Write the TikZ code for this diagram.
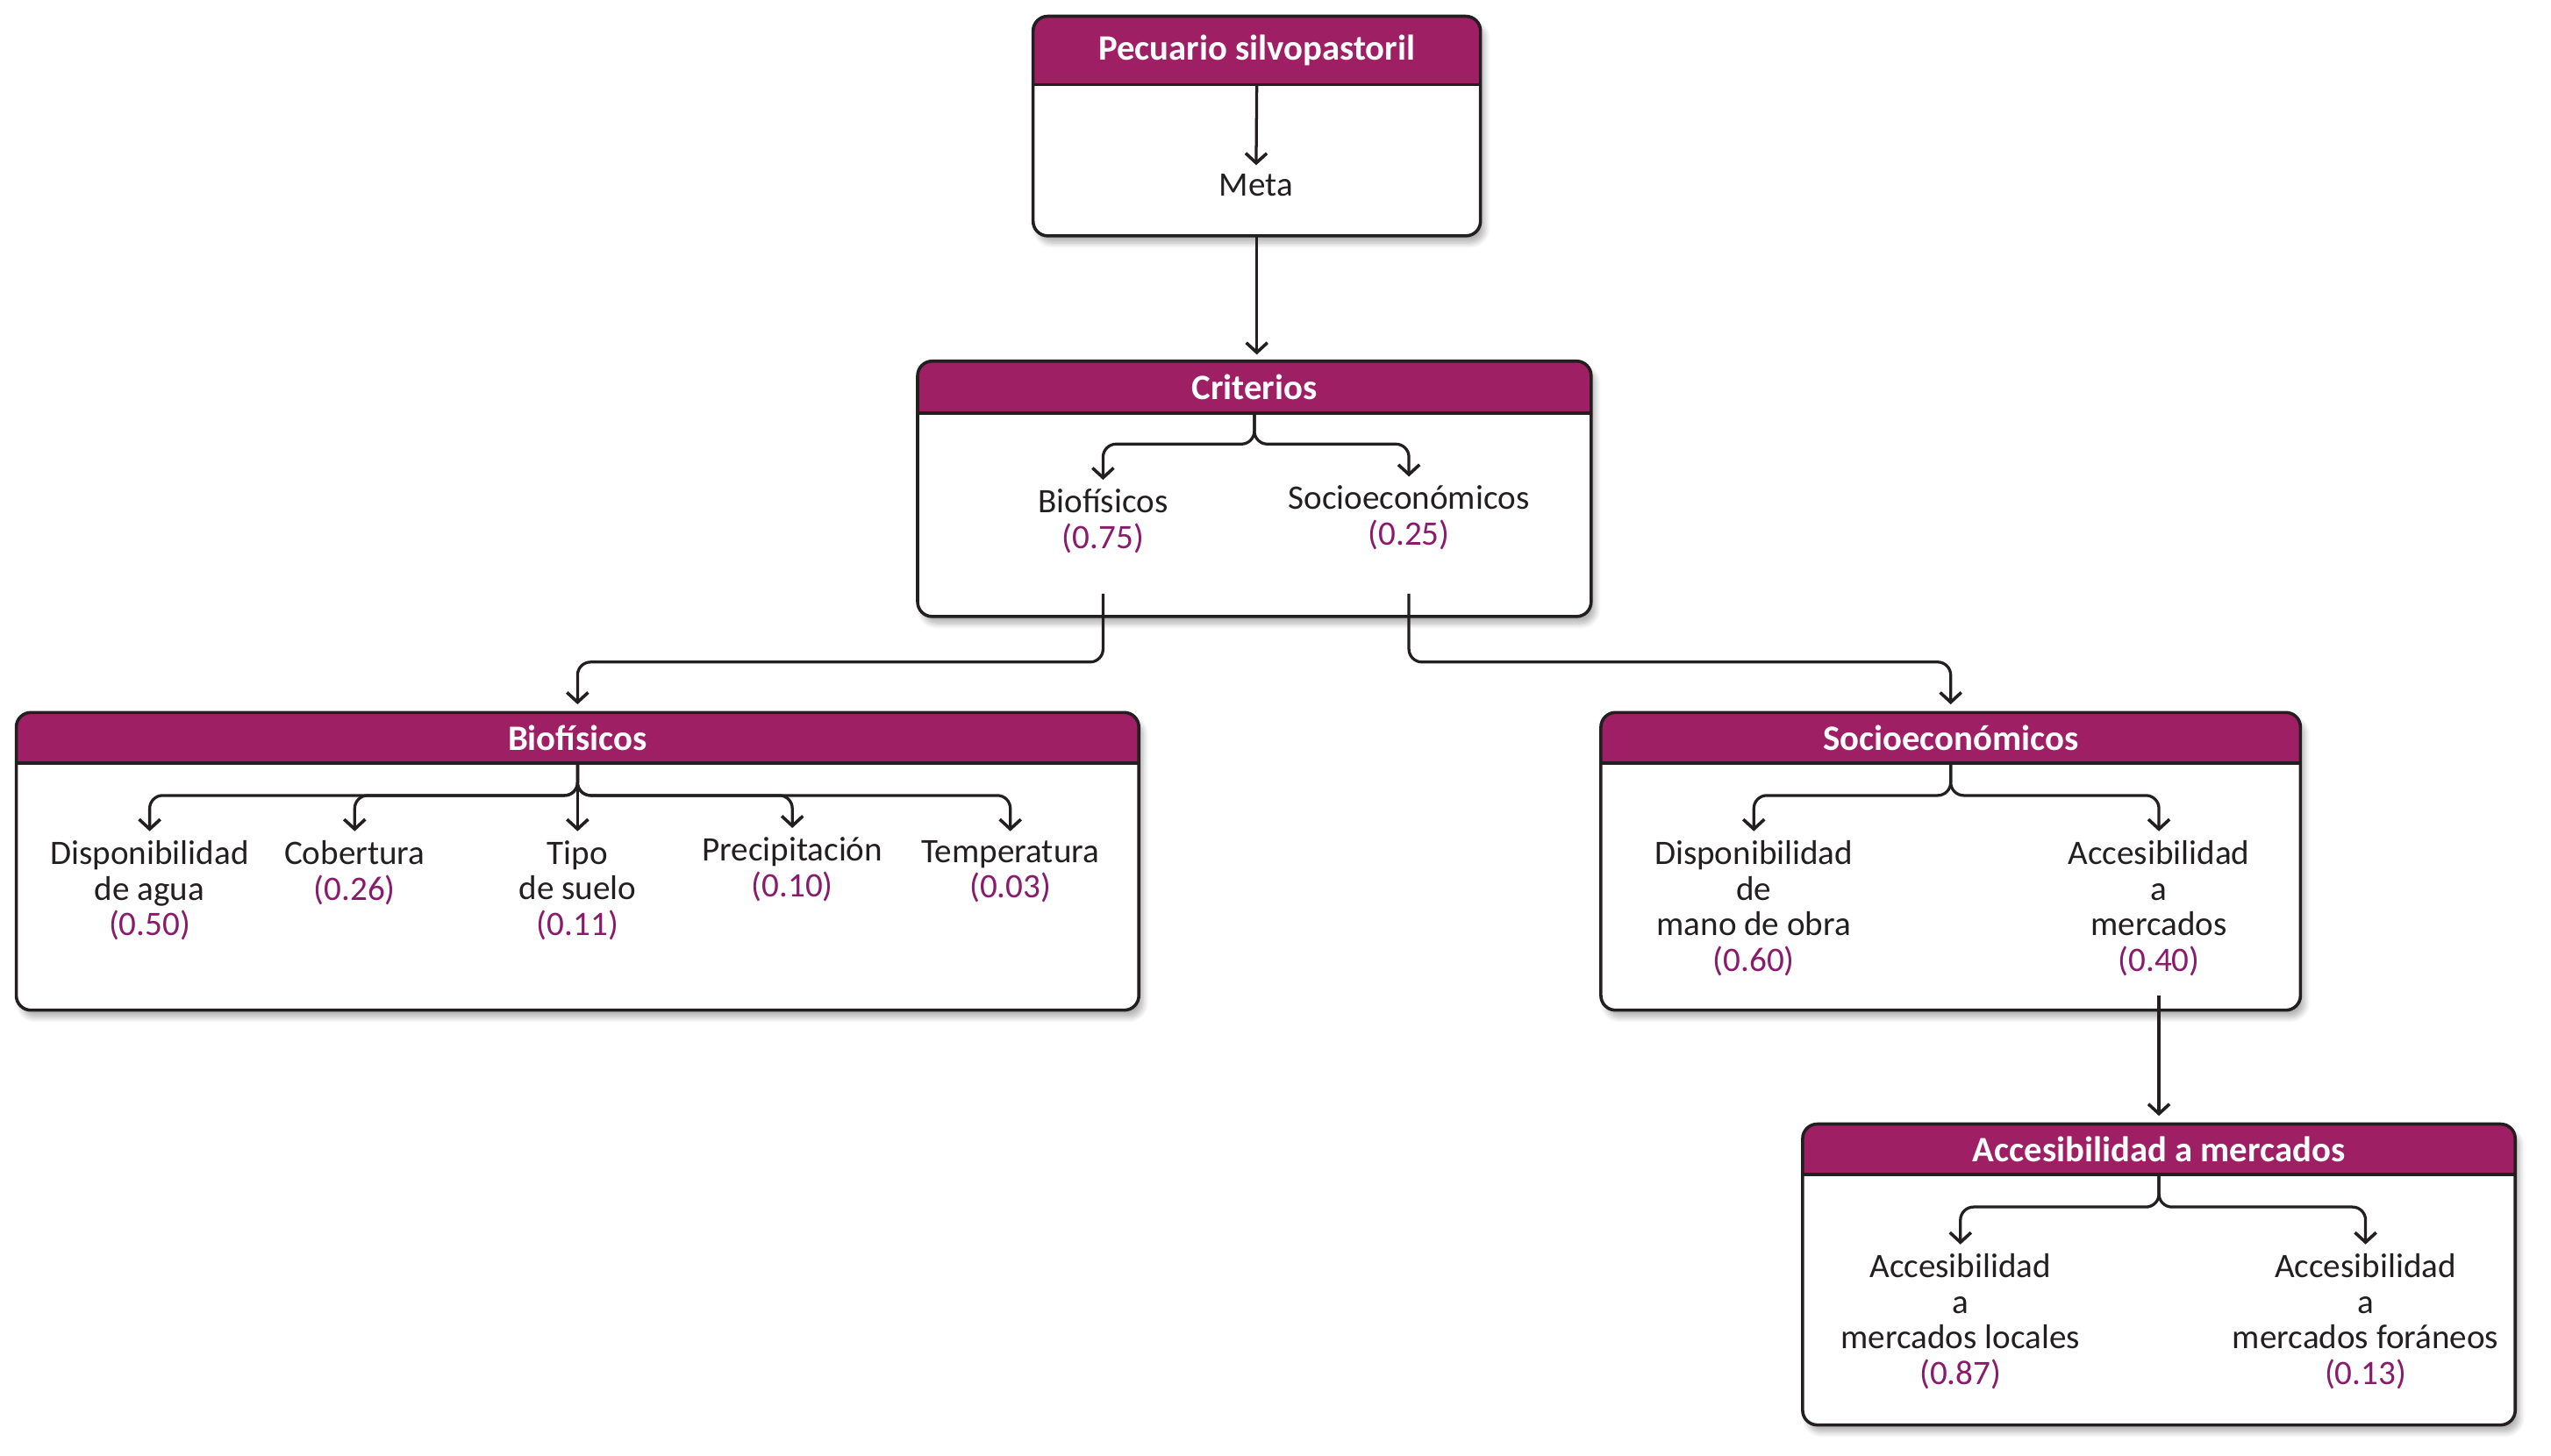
\documentclass[tikz,border=0pt]{standalone}
\usepackage{fontspec}
\setmainfont{Carlito}
\usepackage{xcolor}
\usepackage{tikz}
\usetikzlibrary{calc, arrows.meta, shadows.blur}
\definecolor{headColor}{HTML}{9E1F63}
\definecolor{weightColor}{HTML}{8A1A6C}
\definecolor{lineColor}{HTML}{231F20}

\tikzset{
  panelbody/.style={fill=white, rounded corners=1.8mm,
    blur shadow={shadow xshift=1.5pt, shadow yshift=-2.5pt, shadow opacity=30, shadow blur steps=8}},
  panelline/.style={draw=lineColor, line width=1.1pt},
  headtext/.style={text=white, font=\fontsize{12.5}{14}\selectfont\bfseries, inner sep=0pt},
  item/.style={align=center, anchor=north, inner sep=3pt, text=lineColor, font=\fontsize{12}{12.5}\selectfont},
  conn/.style={draw=lineColor, line width=1pt, rounded corners=1.6mm,
    -{Straight Barb[length=1.2mm, width=2.6mm, line width=1.1pt]}},
}
\newcommand{\wt}[1]{\textcolor{weightColor}{(#1)}}
% name, x1, y1, x2, y2, header bottom, title
\newcommand{\drawpanel}[7]{%
  \fill[panelbody] (#2,#3) rectangle (#4,#5);
  \begin{scope}
    \clip[rounded corners=1.8mm] (#2,#3) rectangle (#4,#5);
    \fill[headColor] (#2,#3) rectangle (#4,#6);
  \end{scope}
  \draw[panelline] (#2,#6) -- (#4,#6);
  \draw[panelline, rounded corners=1.8mm] (#2,#3) rectangle (#4,#5);
  \node[headtext] (#1) at ({(#2+#4)/2},{(#3+#6)/2}) {#7};
  \coordinate (#1-top) at ({(#2+#4)/2},#3);
  \coordinate (#1-fork) at ({(#2+#4)/2},#6);
  \coordinate (#1-bot) at ({(#2+#4)/2},#5);
}

\begin{document}
\begin{tikzpicture}[x=0.2mm, y=-0.2mm]
    \useasboundingbox (0,0) rectangle (1568,895);

    % panels
    \drawpanel{pecuario}{635}{10}{910}{145}{52}{Pecuario silvopastoril}
    \drawpanel{criterios}{564}{222}{978}{379}{254}{Criterios}
    \drawpanel{biofis}{10}{438}{700}{621}{469}{Biofísicos}
    \drawpanel{socio}{984}{438}{1414}{621}{469}{Socioeconómicos}
    \drawpanel{acces}{1108}{691}{1546}{876}{722}{Accesibilidad a mercados}

    % meta
    \node[item, anchor=center] (meta) at (772,114) {Meta};
    \draw[conn] (pecuario-fork) -- (meta);
    \draw[conn, shorten >=0.8mm] (pecuario-bot) -- (pecuario-bot |- criterios-top);

    % criterios
    \node[item] (crbio) at (678,295) {Biofísicos\\\wt{0.75}};
    \node[item] (crsoc) at (866,293) {Socioeconómicos\\\wt{0.25}};
    \draw[conn] (criterios-fork) -- ++(0,19) -| (crbio);
    \draw[conn] (criterios-fork) -- ++(0,19) -| (crsoc);
    \coordinate (crout) at (0,365);
    \draw[conn, shorten >=1mm] (crbio |- crout) -- ++(0,42) -| (biofis-top);
    \draw[conn, shorten >=1mm] (crsoc |- crout) -- ++(0,42) -| (socio-top);

    % biofisicos
    \node[item] (agua) at (92,511) {Disponibilidad\\de agua\\\wt{0.50}};
    \node[item] (cober) at (218,511) {Cobertura\\\wt{0.26}};
    \node[item] (suelo) at (355,511) {Tipo\\de suelo\\\wt{0.11}};
    \node[item] (precip) at (487,509) {Precipitación\\\wt{0.10}};
    \node[item] (temp) at (621,511) {Temperatura\\\wt{0.03}};
    \foreach \n in {agua, cober, precip, temp}
        \draw[conn] (biofis-fork) -- ++(0,20) -| (\n);
    \draw[conn] (biofis-fork) -- (suelo);

    % socioeconomicos
    \node[item] (obra) at (1078,511) {Disponibilidad\\de\\mano de obra\\\wt{0.60}};
    \node[item] (merc) at (1327,511) {Accesibilidad\\a\\mercados\\\wt{0.40}};
    \draw[conn] (socio-fork) -- ++(0,20) -| (obra);
    \draw[conn] (socio-fork) -- ++(0,20) -| (merc);
    \coordinate (soout) at (0,612);
    \draw[conn, shorten >=1mm] (merc |- soout) -- (merc |- acces-top);

    % accesibilidad
    \node[item] (local) at (1205,765) {Accesibilidad\\a\\mercados locales\\\wt{0.87}};
    \node[item] (foran) at (1454,765) {Accesibilidad\\a\\mercados foráneos\\\wt{0.13}};
    \draw[conn] (acces-fork) -- ++(0,20) -| (local);
    \draw[conn] (acces-fork) -- ++(0,20) -| (foran);
\end{tikzpicture}
\end{document}
